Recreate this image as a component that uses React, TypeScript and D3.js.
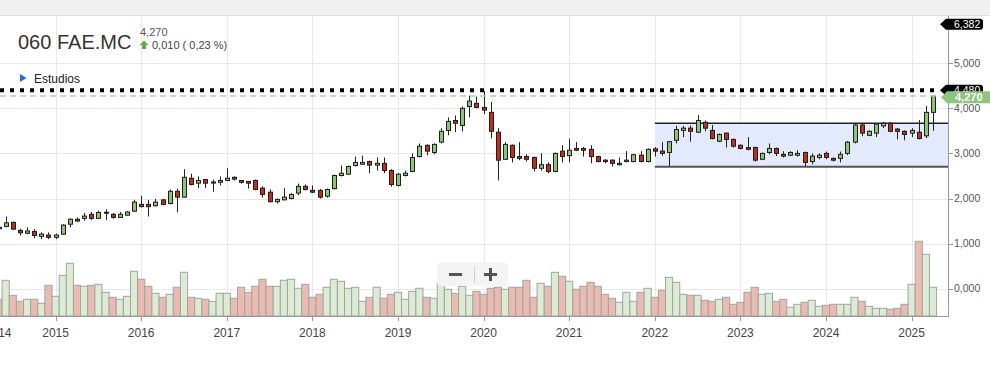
import React from 'react';
import * as d3 from 'd3';

// ---- data (monthly candles, first candle = May 2014) ----
const FIRST_YEAR = 2014;
const FIRST_MONTH = 5;

const open = [
  1.36, 1.38, 1.47, 1.29, 1.23, 1.27, 1.16, 1.19,
  1.14, 1.21, 1.43, 1.54, 1.56, 1.65, 1.56, 1.69, 1.65, 1.58, 1.63, 1.72,
  1.87, 1.87, 1.84, 1.97, 1.89, 2.16, 2.03, 2.45, 2.34, 2.42, 2.36, 2.36,
  2.40, 2.47, 2.40, 2.38, 2.40, 2.23, 2.14, 1.93, 1.97, 2.00, 2.12, 2.27,
  2.18, 2.18, 2.05, 2.22, 2.51, 2.54, 2.73, 2.76, 2.82, 2.74, 2.78, 2.62,
  2.29, 2.51, 2.60, 2.93, 3.18, 3.02, 3.25, 3.51, 3.73, 3.62, 4.04, 4.11,
  4.02, 3.91, 3.47, 2.87, 3.18, 2.93, 2.93, 2.91, 2.67, 2.75, 2.60, 3.05,
  2.95, 3.11, 3.11, 3.09, 2.93, 2.85, 2.85, 2.75, 2.82, 2.82, 2.96, 2.82,
  3.10, 3.05, 3.02, 3.29, 3.51, 3.56, 3.47, 3.69, 3.51, 3.27, 3.45, 3.31,
  3.18, 3.13, 3.13, 2.87, 3.02, 3.11, 2.98, 2.96, 2.96, 3.02, 2.82, 2.91,
  3.00, 2.89, 2.89, 3.00, 3.25, 3.63, 3.40, 3.45, 3.61, 3.67, 3.54, 3.49,
  3.45, 3.47, 3.39, 3.91,
];
const close = [
  1.33, 1.46, 1.32, 1.24, 1.28, 1.18, 1.21, 1.14,
  1.19, 1.41, 1.54, 1.50, 1.61, 1.56, 1.69, 1.695, 1.58, 1.65, 1.70, 1.92,
  1.82, 1.82, 1.92, 1.87, 2.16, 2.03, 2.47, 2.31, 2.40, 2.34, 2.365, 2.40,
  2.45, 2.43, 2.36, 2.34, 2.20, 2.09, 1.93, 1.98, 2.03, 2.09, 2.27, 2.20,
  2.14, 2.03, 2.20, 2.51, 2.56, 2.71, 2.80, 2.80, 2.74, 2.78, 2.62, 2.31,
  2.54, 2.56, 2.91, 3.16, 3.05, 3.20, 3.49, 3.71, 3.67, 4.00, 4.16, 4.02,
  3.96, 3.49, 2.85, 3.20, 2.91, 2.89, 2.87, 2.67, 2.75, 2.60, 3.00, 2.93,
  3.07, 3.07, 3.07, 2.93, 2.82, 2.82, 2.78, 2.78, 2.85, 2.97, 2.82, 3.09,
  3.05, 3.00, 3.26, 3.53, 3.56, 3.49, 3.73, 3.56, 3.33, 3.42, 3.31, 3.16,
  3.11, 3.09, 2.85, 3.00, 3.11, 3.00, 2.94, 3.02, 3.00, 2.80, 2.94, 2.96,
  2.91, 2.85, 2.98, 3.25, 3.63, 3.45, 3.49, 3.65, 3.67, 3.49, 3.49, 3.42,
  3.51, 3.33, 3.91, 4.27,
];
const high = [
  1.38, 1.60, 1.49, 1.33, 1.36, 1.32, 1.25, 1.25,
  1.22, 1.43, 1.56, 1.58, 1.68, 1.70, 1.73, 1.76, 1.68, 1.70, 1.72, 1.97,
  2.06, 1.97, 1.99, 1.99, 2.20, 2.22, 2.65, 2.55, 2.49, 2.43, 2.42, 2.49,
  2.67, 2.49, 2.41, 2.38, 2.42, 2.27, 2.20, 2.00, 2.23, 2.12, 2.33, 2.31,
  2.29, 2.21, 2.22, 2.53, 2.73, 2.73, 2.93, 2.95, 2.84, 2.91, 2.91, 2.65,
  2.56, 2.62, 3.00, 3.22, 3.20, 3.22, 3.56, 3.80, 3.84, 4.04, 4.28, 4.26,
  4.38, 4.14, 3.56, 3.25, 3.20, 3.25, 2.98, 2.93, 3.00, 2.80, 3.02, 3.18,
  3.33, 3.25, 3.14, 3.18, 2.95, 2.87, 2.87, 2.91, 3.05, 2.99, 3.05, 3.11,
  3.14, 3.25, 3.27, 3.61, 3.61, 3.62, 3.85, 3.73, 3.63, 3.44, 3.46, 3.33,
  3.20, 3.36, 3.15, 3.02, 3.22, 3.13, 3.05, 3.05, 3.07, 3.04, 3.00, 3.00,
  3.04, 2.91, 3.04, 3.27, 3.65, 3.65, 3.51, 3.67, 3.70, 3.69, 3.56, 3.51,
  3.56, 3.74, 4.05, 4.28,
];
const low = [
  1.30, 1.36, 1.31, 1.18, 1.21, 1.12, 1.10, 1.10,
  1.10, 1.20, 1.36, 1.48, 1.51, 1.52, 1.55, 1.52, 1.55, 1.57, 1.62, 1.70,
  1.80, 1.60, 1.82, 1.85, 1.87, 1.69, 2.02, 2.29, 2.23, 2.23, 2.15, 2.29,
  2.39, 2.40, 2.33, 2.22, 2.18, 2.02, 1.91, 1.89, 1.96, 1.98, 2.07, 2.18,
  2.12, 2.00, 2.02, 2.20, 2.49, 2.52, 2.71, 2.75, 2.56, 2.62, 2.56, 2.26,
  2.27, 2.49, 2.58, 2.91, 2.96, 2.98, 3.22, 3.40, 3.47, 3.49, 3.80, 4.00,
  3.87, 3.33, 2.40, 2.85, 2.80, 2.85, 2.82, 2.60, 2.62, 2.56, 2.58, 2.80,
  2.80, 3.05, 2.93, 2.78, 2.80, 2.78, 2.71, 2.73, 2.80, 2.80, 2.80, 2.80,
  2.93, 2.95, 2.72, 3.22, 3.36, 3.26, 3.45, 3.49, 3.31, 3.25, 3.13, 3.13,
  3.09, 3.07, 2.82, 2.85, 2.98, 2.94, 2.91, 2.94, 2.93, 2.71, 2.76, 2.87,
  2.87, 2.82, 2.80, 2.96, 3.22, 3.38, 3.38, 3.36, 3.56, 3.47, 3.31, 3.29,
  3.36, 3.31, 3.34, 3.50,
];
const volume = [
  167, 357, 207, 147, 167, 167, 127, 307,
  197, 407, 527, 307, 297, 307, 317, 237, 187, 167, 197, 447,
  367, 297, 227, 187, 217, 287, 437, 187, 177, 167, 147, 227,
  227, 177, 287, 237, 297, 367, 297, 297, 357, 367, 277, 317,
  187, 217, 287, 367, 347, 277, 287, 147, 187, 287, 177, 217,
  237, 167, 247, 277, 187, 177, 337, 267, 227, 297, 207, 247,
  217, 277, 287, 267, 287, 287, 357, 187, 327, 297, 437, 397,
  347, 267, 297, 337, 297, 217, 177, 137, 237, 147, 237, 277,
  187, 257, 387, 337, 217, 207, 207, 157, 147, 167, 187, 117,
  137, 237, 287, 217, 227, 147, 167, 87, 117, 137, 157, 97,
  107, 117, 117, 117, 187, 147, 97, 77, 77, 67, 77, 117,
  317, 747, 617, 287,
];

const yearTicks = [2014, 2015, 2016, 2017, 2018, 2019, 2020, 2021, 2022, 2023, 2024, 2025];
const priceTicks = [0, 1, 2, 3, 4, 5];

const symbol = '060 FAE.MC';
const lastPrice = 4.27;
const changeText = '0,010 ( 0,23 %)';
const levelValue = 4.4;
const levelLabel = '4,480';
const maxLabel = '6,382';
const rangeStart = 2022;
const rangeTop = 3.667;
const rangeBottom = 2.705;

const FONT = '"Liberation Sans", Arial, Helvetica, sans-serif';

function tagPath(x0: number, x1: number, yc: number, h: number) {
  const t = yc - h / 2;
  const b = yc + h / 2;
  return `M${x0},${yc} L${x0 + 6},${t} L${x1 - 3},${t} Q${x1},${t} ${x1},${t + 3} L${x1},${b - 3} Q${x1},${b} ${x1 - 3},${b} L${x0 + 6},${b} Z`;
}

export default function App() {
  const W = 990;
  const H = 376;
  const plotRight = 948.5;
  const plotTop = 15.5;
  const plotBottom = 316;

  const x = d3.scaleLinear().domain([2015, 2025]).range([55.6, 911.6]);
  const y = d3.scaleLinear().domain([0, 5]).range([288.7, 63.2]);
  const yv = d3.scaleLinear().domain([0, 1000]).range([plotBottom, plotBottom - 100]);
  const fmt = (v: number) => d3.format('.3f')(v).replace('.', ',');
  const tOf = (i: number) => FIRST_YEAR + (FIRST_MONTH - 1 + i) / 12;
  const mw = x(2015 + 1 / 12) - x(2015);

  const candles = open.map((o, i) => ({
    t: tOf(i), o, c: close[i], h: high[i], l: low[i], v: volume[i], up: close[i] >= o,
  }));

  const GREEN = '#8fc474';
  const RED = '#bf2f1b';
  const VGREEN = '#dcebd3';
  const VRED = '#e9bbb1';

  return (
    <svg width={W} height={H} style={{ position: 'absolute', left: 0, top: 0, background: '#fff' }} fontFamily={FONT}>
      <rect x={0} y={0} width={W} height={H} fill="#fff" />
      <rect x={0} y={0} width={W} height={15} fill="#f0f0f0" />
      <line x1={0} x2={W} y1={15.5} y2={15.5} stroke="#e2e2e2" />

      {/* grid */}
      <g shapeRendering="crispEdges">
        {yearTicks.map((yr) => (
          <line key={'gx' + yr} x1={Math.round(x(yr)) + 0.5} x2={Math.round(x(yr)) + 0.5} y1={plotTop} y2={plotBottom} stroke="#e8e8e8" />
        ))}
        {priceTicks.map((p) => (
          <line key={'gy' + p} x1={0} x2={plotRight} y1={Math.round(y(p)) + 0.5} y2={Math.round(y(p)) + 0.5} stroke="#e8e8e8" />
        ))}
      </g>

      {/* range rectangle */}
      <rect x={x(rangeStart)} y={y(rangeTop)} width={plotRight - x(rangeStart)} height={y(rangeBottom) - y(rangeTop)} fill="#e3eafb" />
      <line x1={x(rangeStart)} x2={plotRight} y1={y(rangeTop)} y2={y(rangeTop)} stroke="#222" strokeWidth={1.5} />
      <line x1={x(rangeStart)} x2={plotRight} y1={y(rangeBottom)} y2={y(rangeBottom)} stroke="#555" strokeWidth={2} />

      {/* volume */}
      <g>
        {candles.map((d, i) => (
          <rect key={'v' + i} x={x(d.t) - mw / 2} y={yv(d.v)} width={mw} height={plotBottom - yv(d.v)}
            fill={d.up ? VGREEN : VRED} stroke="#a3a3a3" strokeWidth={1} />
        ))}
      </g>

      {/* axes */}
      <g shapeRendering="crispEdges">
        <line x1={0} x2={plotRight} y1={plotBottom + 0.5} y2={plotBottom + 0.5} stroke="#999" />
        <line x1={plotRight} x2={plotRight} y1={plotTop} y2={plotBottom} stroke="#999" />
        {yearTicks.map((yr) => (
          <line key={'tx' + yr} x1={Math.round(x(yr)) + 0.5} x2={Math.round(x(yr)) + 0.5} y1={plotBottom} y2={plotBottom + 5} stroke="#999" />
        ))}
        {priceTicks.map((p) => (
          <line key={'ty' + p} x1={plotRight} x2={plotRight + 4} y1={Math.round(y(p)) + 0.5} y2={Math.round(y(p)) + 0.5} stroke="#999" />
        ))}
      </g>
      {yearTicks.map((yr) => {
        const xx = x(yr);
        const anchor = xx < 20 ? 'end' : 'middle';
        return (
          <text key={'lx' + yr} x={xx < 20 ? 11.5 : xx} y={336.5} fontSize={12} fill="#444" textAnchor={anchor}>{yr}</text>
        );
      })}
      {priceTicks.map((p) => (
        <text key={'ly' + p} x={954} y={y(p) + 3.6} fontSize={10.5} fill="#555">{fmt(p)}</text>
      ))}

      {/* candles */}
      <g>
        {candles.map((d, i) => {
          const cx = Math.round(x(d.t));
          const top = y(Math.max(d.o, d.c));
          const bot = y(Math.min(d.o, d.c));
          const bh = Math.max(1, bot - top);
          return (
            <g key={'c' + i}>
              <line x1={cx + 0.5} x2={cx + 0.5} y1={y(d.h)} y2={y(d.l)} stroke="#222" strokeWidth={1} />
              <rect x={cx - 1.5} y={top} width={4} height={bh} fill={d.up ? GREEN : RED} stroke="#1e1e1e" strokeWidth={1} />
            </g>
          );
        })}
      </g>

      {/* level lines */}
      <line x1={0} x2={940} y1={y(lastPrice)} y2={y(lastPrice)} stroke="#a9d69c" strokeWidth={1.5} strokeDasharray="6 4" />
      <line x1={0} x2={940} y1={y(levelValue)} y2={y(levelValue)} stroke="#000" strokeWidth={4} strokeDasharray="4 6" />

      {/* tags */}
      <path d={tagPath(940, 983, 24.3, 11)} fill="#000" />
      <text x={954} y={28} fontSize={10.5} fill="#fff">{maxLabel}</text>
      <path d={tagPath(940, 983, y(levelValue), 11)} fill="#000" />
      <text x={954} y={y(levelValue) + 3.8} fontSize={10.5} fill="#fff">{levelLabel}</text>
      <path d={tagPath(941, 996, y(lastPrice) + 1.2, 12)} fill="#8dc57c" />
      <text x={955} y={y(lastPrice) + 5.2} fontSize={11} fontWeight="bold" fill="#fff">{fmt(lastPrice)}</text>

      {/* header */}
      <text x={18} y={48.5} fontSize={20} fill="#333">{symbol}</text>
      <text x={140} y={36} fontSize={11} fill="#555">{fmt(lastPrice)}</text>
      <path d="M144,40.5 L148.5,45 L146,45 L146,49 L142,49 L142,45 L139.5,45 Z" fill="#5fb03c" />
      <text x={152} y={49} fontSize={11} fill="#444">{changeText}</text>
      <path d="M20,74 L26.5,78 L20,82 Z" fill="#1a6fd8" />
      <text x={34} y={82.5} fontSize={12} fill="#222">Estudios</text>

      {/* zoom control */}
      <g>
        <rect x={437} y={262.5} width={71} height={23.5} rx={4} fill="#f4f4f4" />
        <line x1={449} x2={462} y1={274.5} y2={274.5} stroke="#555" strokeWidth={3} />
        <line x1={474.5} x2={474.5} y1={266} y2={283} stroke="#cfcfcf" strokeWidth={1} />
        <line x1={484} x2={497} y1={274.5} y2={274.5} stroke="#555" strokeWidth={3} />
        <line x1={490.5} x2={490.5} y1={268} y2={281} stroke="#555" strokeWidth={3} />
      </g>
    </svg>
  );
}
